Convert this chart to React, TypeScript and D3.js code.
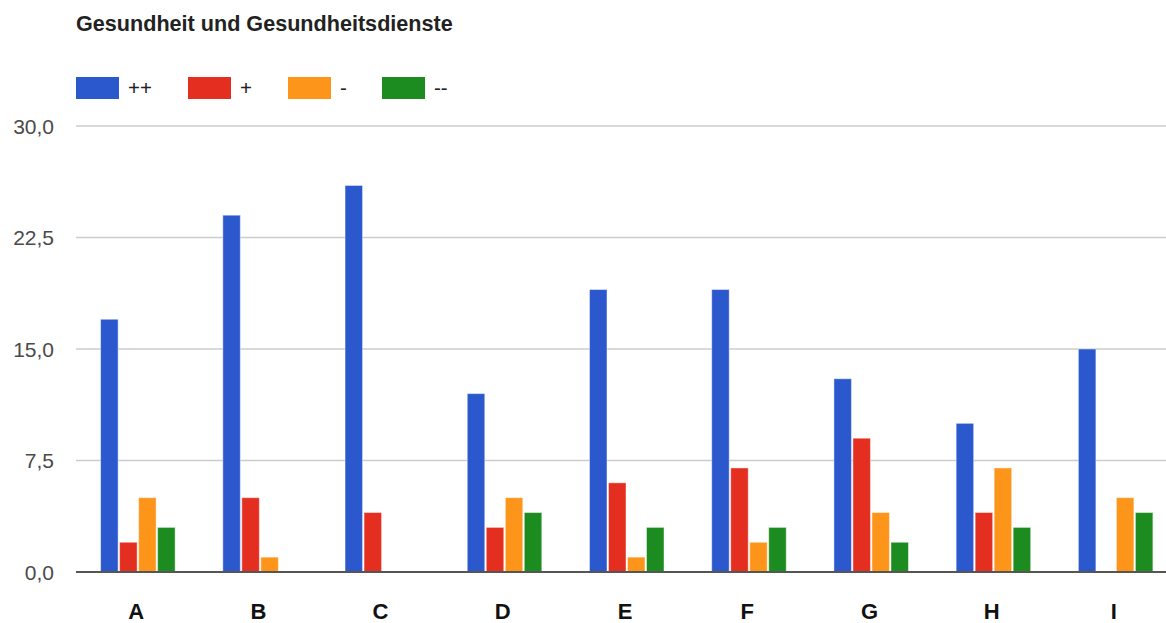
import React from "react";
import * as d3 from "d3";

const title = "Gesundheit und Gesundheitsdienste";
const categories = ["A", "B", "C", "D", "E", "F", "G", "H", "I"];
const seriesNames = ["++", "+", "-", "--"];
const seriesColors = ["#2c58ce", "#e42e20", "#fe951b", "#1d8c20"];
const valuesPlusPlus = [17, 24, 26, 12, 19, 19, 13, 10, 15];
const valuesPlus = [2, 5, 4, 3, 6, 7, 9, 4, 0];
const valuesMinus = [5, 1, 0, 5, 1, 2, 4, 7, 5];
const valuesMinusMinus = [3, 0, 0, 4, 3, 3, 2, 3, 4];
const yTicks = [0, 7.5, 15, 22.5, 30];

const W = 1166;
const H = 623;
const FONT = "'Liberation Sans', Arial, sans-serif";

export default function App() {
  const series = [valuesPlusPlus, valuesPlus, valuesMinus, valuesMinusMinus];

  const x = d3
    .scaleBand<string>()
    .domain(categories)
    .range([77, 1177])
    .paddingInner(0.378)
    .paddingOuter(0.189);

  const xInner = d3
    .scaleBand<string>()
    .domain(seriesNames)
    .range([0, x.bandwidth()])
    .padding(0);

  const y = d3.scaleLinear().domain([0, 30]).range([572, 126]);
  const fmt = (v: number) => d3.format(".1f")(v).replace(".", ",");

  const legendX = [76, 188, 288, 382];

  return (
    <div style={{ position: "absolute", left: 0, top: 0 }}>
      <svg width={W} height={H} style={{ display: "block", background: "#fff" }}>
        <text x={76} y={31} fontFamily={FONT} fontSize={21.6} fontWeight="bold" fill="#222">
          {title}
        </text>

        {seriesNames.map((name, i) => (
          <g key={name}>
            <rect x={legendX[i]} y={77} width={43} height={22} fill={seriesColors[i]} />
            <text x={legendX[i] + 52} y={95} fontFamily={FONT} fontSize={20.5} fill="#222">
              {name}
            </text>
          </g>
        ))}

        {yTicks.map((t) => (
          <g key={t}>
            {t !== 0 && (
              <line x1={76} x2={W} y1={y(t)} y2={y(t)} stroke="#cccccc" strokeWidth={1.5} />
            )}
            <text
              x={54}
              y={y(t) + 7.5}
              textAnchor="end"
              fontFamily={FONT}
              fontSize={21}
              fill="#4a4a4a"
            >
              {fmt(t)}
            </text>
          </g>
        ))}

        {categories.map((c, ci) => (
          <g key={c} transform={`translate(${x(c)},0)`}>
            {series.map((vals, si) =>
              vals[ci] > 0 ? (
                <rect
                  key={si}
                  x={(xInner(seriesNames[si]) as number) + 0.5}
                  y={y(vals[ci])}
                  width={xInner.bandwidth() - 1.5}
                  height={y(0) - y(vals[ci])}
                  fill={seriesColors[si]}
                  stroke="rgba(255,255,255,0.45)"
                  strokeWidth={1}
                />
              ) : null
            )}
          </g>
        ))}

        <line x1={76} x2={W} y1={y(0)} y2={y(0)} stroke="#555" strokeWidth={2} />

        {categories.map((c) => (
          <text
            key={c}
            x={(x(c) as number) + x.bandwidth() / 2 - 2}
            y={619}
            textAnchor="middle"
            fontFamily={FONT}
            fontSize={22}
            fontWeight="bold"
            fill="#111"
          >
            {c}
          </text>
        ))}
      </svg>
    </div>
  );
}
